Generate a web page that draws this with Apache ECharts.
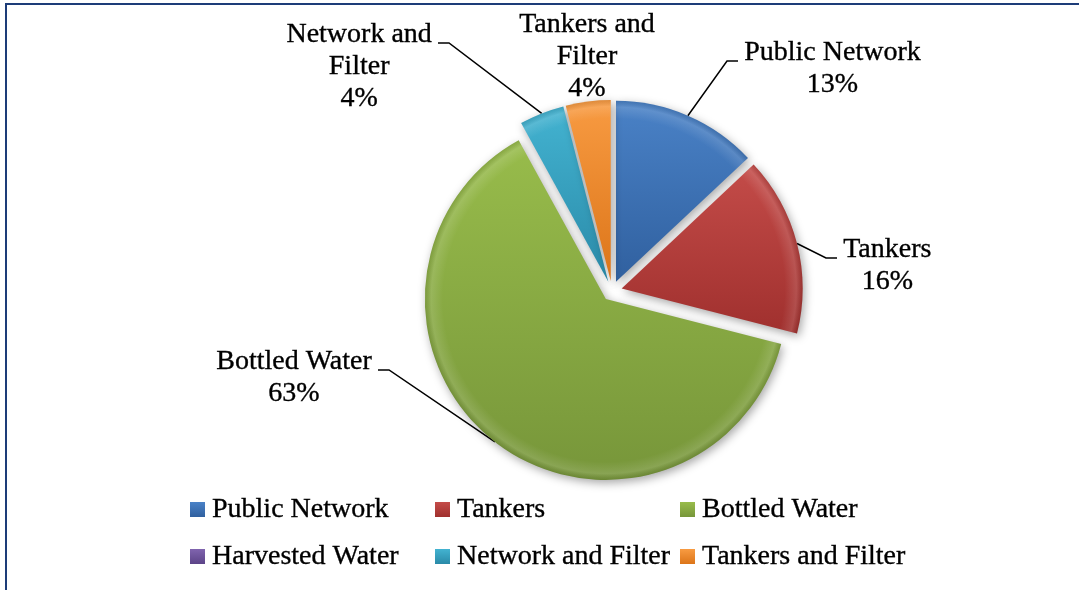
<!DOCTYPE html>
<html>
<head>
<meta charset="utf-8">
<script src="https://cdn.jsdelivr.net/npm/echarts@6/dist/echarts.min.js"></script>
<style>
  html, body { margin: 0; padding: 0; background: #ffffff; }
  #chart { width: 1079px; height: 590px; }
</style>
</head>
<body>
<div id="chart"></div>
<script>
// Household drinking-water sources (share of respondents, %)
const categories = ['Public Network', 'Tankers', 'Bottled Water', 'Harvested Water', 'Network and Filter', 'Tankers and Filter'];
const shares = [13, 16, 63, 0, 4, 4];
const calloutNames = ['Public Network', 'Tankers', 'Bottled Water', 'Harvested Water', 'Network and\nFilter', 'Tankers and\nFilter'];

// light / dark ends of each slice's shading
const sliceColors = [
  ['#4a82c7', '#30609f'],
  ['#c44c49', '#a0302e'],
  ['#98bc4b', '#77963a'],
  ['#8064ae', '#5c4488'],
  ['#43b3d1', '#2a8aa8'],
  ['#f89b42', '#dc7519']
];

// end of each leader line, and on which side of it the callout text sits
const callouts = [
  { x: 738, y: 61, side: 'right' },
  { x: 837, y: 258, side: 'right' },
  { x: 378, y: 370, side: 'left' },
  null,
  { x: 438, y: 43, side: 'left' },
  { x: 587, y: 33, side: 'top' }
];

const FONT = '"Liberation Serif", "DejaVu Serif", serif';
const PIE_CENTER = [612, 291];
const PIE_RADIUS = 181;
const EXPLODE = 10;

function shade(i) {
  return new echarts.graphic.LinearGradient(0, 0, 0, 1, [
    { offset: 0, color: sliceColors[i][0] },
    { offset: 1, color: sliceColors[i][1] }
  ]);
}

// soft rim highlight laid over every slice
const rim = new echarts.graphic.RadialGradient(PIE_CENTER[0], PIE_CENTER[1], PIE_RADIUS, [
  { offset: 0, color: 'rgba(255,255,255,0)' },
  { offset: 0.9, color: 'rgba(255,255,255,0)' },
  { offset: 0.965, color: 'rgba(255,255,255,0.13)' },
  { offset: 1, color: 'rgba(0,0,0,0.10)' }
], true);

// exploded slices
const sliceData = categories.map((name, i) => ({
  name: name,
  value: shares[i],
  selected: true,
  itemStyle: { color: shade(i) }
}));

const rimData = categories.map((name, i) => ({
  name: name,
  value: shares[i],
  selected: true
}));

// same slices again, unfilled, carrying the callout texts and leader lines
const calloutData = categories.map((name, i) => ({
  name: name,
  value: shares[i],
  label: { show: shares[i] > 0 },
  labelLine: { show: shares[i] > 0 && callouts[i] !== null && callouts[i].side !== 'top' }
}));

const textInk = { color: '#000000', textBorderColor: '#000000', textBorderWidth: 0.35 };

const chart = echarts.init(document.getElementById('chart'), null, { renderer: 'canvas' });

chart.setOption({
  animation: false,
  backgroundColor: '#ffffff',
  graphic: [{
    type: 'rect',
    silent: true,
    shape: { x: 6, y: 4, width: 1200, height: 700 },
    style: { fill: 'none', stroke: '#1d3c78', lineWidth: 2 }
  }],
  legend: {
    left: 190,
    top: 486,
    width: 740,
    padding: 0,
    itemGap: 0,
    itemWidth: 15,
    itemHeight: 15,
    icon: 'rect',
    selectedMode: false,
    data: categories,
    textStyle: Object.assign({
      fontFamily: FONT,
      fontSize: 28,
      width: 223,
      lineHeight: 47,
      padding: [0, 0, 0, 2]
    }, textInk)
  },
  series: [{
    type: 'pie',
    center: PIE_CENTER,
    radius: PIE_RADIUS,
    startAngle: 90,
    clockwise: true,
    selectedMode: 'multiple',
    selectedOffset: EXPLODE,
    itemStyle: {
      shadowBlur: 10,
      shadowColor: 'rgba(0,0,0,0.35)',
      shadowOffsetX: 2,
      shadowOffsetY: 3
    },
    label: { show: false },
    labelLine: { show: false },
    emphasis: { disabled: true },
    data: sliceData
  }, {
    type: 'pie',
    center: PIE_CENTER,
    radius: PIE_RADIUS,
    startAngle: 90,
    clockwise: true,
    silent: true,
    selectedMode: 'multiple',
    selectedOffset: EXPLODE,
    itemStyle: { color: rim },
    label: { show: false },
    labelLine: { show: false },
    emphasis: { disabled: true },
    data: rimData
  }, {
    type: 'pie',
    center: PIE_CENTER,
    radius: PIE_RADIUS,
    startAngle: 90,
    clockwise: true,
    silent: true,
    selectedMode: false,
    avoidLabelOverlap: false,
    itemStyle: { color: 'rgba(0,0,0,0)' },
    label: Object.assign({
      position: 'outside',
      fontFamily: FONT,
      fontSize: 28,
      lineHeight: 32,
      formatter: p => calloutNames[p.dataIndex] + '\n' + Math.round(p.percent) + '%'
    }, textInk),
    labelLine: {
      show: true,
      lineStyle: { color: '#000000', width: 1.5 }
    },
    labelLayout: function (params) {
      const c = callouts[params.dataIndex];
      if (!c) return {};
      const w = params.labelRect.width;
      const top = c.y - 24;
      if (c.side === 'top') {
        return { x: c.x, y: top, align: 'center', verticalAlign: 'top' };
      }
      // start the leader line on the rim of the exploded slice
      const p0 = params.labelLinePoints[0];
      const vx = p0[0] - PIE_CENTER[0];
      const vy = p0[1] - PIE_CENTER[1];
      const len = Math.sqrt(vx * vx + vy * vy) || 1;
      const start = [p0[0] + vx / len * EXPLODE, p0[1] + vy / len * EXPLODE];
      const dir = c.side === 'right' ? 1 : -1;
      return {
        x: c.x + dir * (6 + w / 2),
        y: top,
        align: 'center',
        verticalAlign: 'top',
        labelLinePoints: [start, [c.x - dir * 11, c.y], [c.x, c.y]]
      };
    },
    emphasis: { disabled: true },
    data: calloutData
  }]
});
</script>
</body>
</html>
